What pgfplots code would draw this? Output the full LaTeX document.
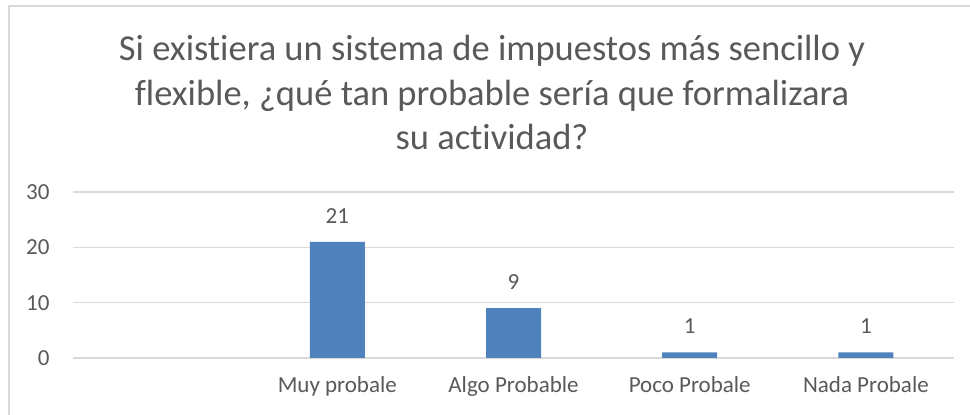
\documentclass[border=0pt]{standalone}
\usepackage{fontspec}
\setmainfont{Carlito}[Ligatures=NoCommon]
\usepackage{pgfplots}
\pgfplotsset{compat=1.18}
\definecolor{barblue}{HTML}{4F81BD}
\definecolor{txt}{HTML}{595959}
\definecolor{gridc}{HTML}{D9D9D9}
\begin{document}
\begin{tikzpicture}[x=1pt,y=1pt]
\useasboundingbox (0,0) rectangle (970,415);
\draw[gridc, line width=1.5pt] (9,-5) -- (9,409) -- (975,409);
\begin{scope}[txt, font=\fontsize{36.5}{44}\selectfont]
\node[anchor=base] at (492,354) {Si existiera un sistema de impuestos más sencillo y};
\node[anchor=base] at (492,309.5) {flexible, ¿qué tan probable sería que formalizara};
\node[anchor=base] at (492,265) {su actividad?};
\end{scope}
\begin{axis}[
  at={(73pt,57pt)}, anchor=south west, scale only axis,
  width=881pt, height=166pt,
  ymin=0, ymax=30, xmin=-0.5, xmax=4.5,
  ytick={0,10,20,30},
  xtick={1,2,3,4},
  xticklabels={Muy probale, Algo Probable, Poco Probale, Nada Probale},
  axis line style={draw=none},
  major tick style={draw=none},
  ymajorgrids, grid style={gridc, line width=1.5pt},
  ticklabel style={txt, font=\fontsize{23}{28}\selectfont},
  yticklabel style={xshift=-20pt},
  xticklabel style={yshift=-11pt},
  /pgf/number format/assume math mode=true,
  ybar, bar width=55pt,
  nodes near coords,
  nodes near coords style={txt, font=\fontsize{23}{28}\selectfont, /pgf/number format/assume math mode=true, yshift=15pt},
  clip=false,
]
\addplot[fill=barblue, draw=none] coordinates {(1,21) (2,9) (3,1) (4,1)};
\end{axis}
\end{tikzpicture}
\end{document}
